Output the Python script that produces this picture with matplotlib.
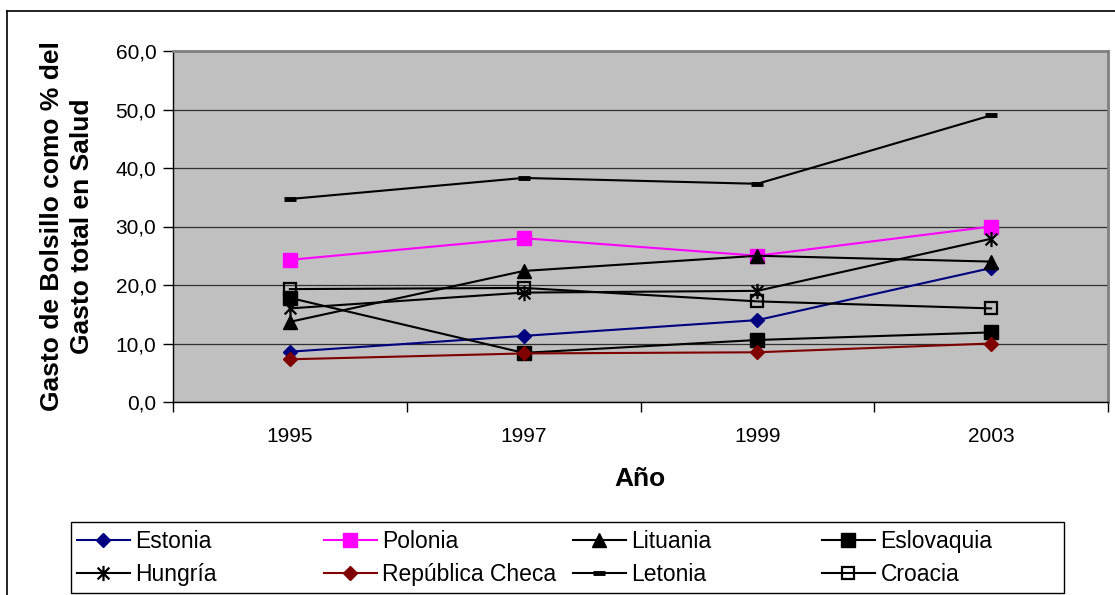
import numpy as np
import matplotlib
matplotlib.use("Agg")
import matplotlib.pyplot as plt
from matplotlib.path import Path
from matplotlib.lines import Line2D
from matplotlib.patches import Rectangle
from matplotlib.ticker import FuncFormatter

plt.rcParams['font.family'] = ['Liberation Sans', 'DejaVu Sans']

years = ['1995', '1997', '1999', '2003']
estonia = [8.6, 11.3, 14.0, 22.9]
polonia = [24.3, 28.0, 25.0, 30.0]
lituania = [13.7, 22.4, 25.0, 24.0]
eslovaquia = [17.8, 8.4, 10.6, 11.9]
hungria = [16.0, 18.7, 19.0, 27.9]
rep_checa = [7.3, 8.3, 8.5, 10.0]
letonia = [34.7, 38.3, 37.3, 49.0]
croacia = [19.3, 19.5, 17.2, 16.0]

# X with a vertical bar through it
star = Path([(-1, -1), (1, 1), (-1, 1), (1, -1), (0, -1.3), (0, 1.3)],
            [Path.MOVETO, Path.LINETO, Path.MOVETO, Path.LINETO, Path.MOVETO, Path.LINETO])

series = [
    ('Estonia', estonia, dict(color='#000080', marker='D', ms=7)),
    ('Polonia', polonia, dict(color='#FF00FF', marker='s', ms=10)),
    ('Lituania', lituania, dict(color='black', marker='^', ms=10)),
    ('Eslovaquia', eslovaquia, dict(color='black', marker='s', ms=9.5)),
    ('Hungría', hungria, dict(color='black', marker=star, ms=11, mew=1.6)),
    ('República Checa', rep_checa, dict(color='#800000', marker='D', ms=7)),
    ('Letonia', letonia, dict(color='black', marker='_', ms=9, mew=3.5)),
    ('Croacia', croacia, dict(color='black', marker='s', ms=9, mfc='none', mew=1.6)),
]

W, H = 1115, 595
fig = plt.figure(figsize=(W / 100, H / 100), dpi=100)
ax = fig.add_axes([173 / W, 1 - 402 / H, 935 / W, 351 / H])
ax.set_facecolor('#C0C0C0')

x = np.arange(len(years))
handles = {}
for name, vals, st in series:
    ln, = ax.plot(x, vals, lw=1.5, label=name, clip_on=False, **st)
    handles[name] = ln

ax.set_xlim(-0.5, len(years) - 0.5)
ax.set_ylim(0, 60)
ax.set_yticks(np.arange(0, 61, 10))
ax.yaxis.set_major_formatter(FuncFormatter(lambda v, p: f'{v:.1f}'.replace('.', ',')))
ax.grid(axis='y', color='#303030', lw=0.9)
ax.set_axisbelow(True)

ax.set_xticks(np.arange(-0.5, len(years), 1.0))
ax.set_xticklabels([])
ax.set_xticks(x, minor=True)
ax.set_xticklabels(years, minor=True)
ax.tick_params(axis='x', which='major', length=7, width=1, color='black', direction='out')
ax.tick_params(axis='x', which='minor', length=0, pad=18, labelsize=15)
ax.tick_params(axis='y', length=7, width=1, direction='out', pad=5, labelsize=15)

for s in ('top', 'right'):
    ax.spines[s].set_color('#808080')
    ax.spines[s].set_linewidth(2)
for s in ('left', 'bottom'):
    ax.spines[s].set_color('black')
    ax.spines[s].set_linewidth(1)

fig.text(67 / W, 1 - 226 / H, 'Gasto de Bolsillo como % del\nGasto total en Salud',
         rotation=90, ha='center', va='center', multialignment='center',
         fontsize=19, fontweight='bold', linespacing=1.35)
fig.text(640 / W, 1 - 479 / H, 'Año', ha='center', va='center',
         fontsize=19, fontweight='bold')

# outer chart frame (left and top edges visible)
fig.add_artist(Line2D([7 / W, 7 / W], [0, 1 - 11 / H], transform=fig.transFigure,
                      color='black', lw=1.2))
fig.add_artist(Line2D([7 / W, 1], [1 - 11 / H, 1 - 11 / H], transform=fig.transFigure,
                      color='black', lw=1.2))

# legend box with four fixed-width columns
fig.add_artist(Rectangle((71 / W, 1 - 593 / H), 993 / W, 71 / H, transform=fig.transFigure,
                         fill=False, ec='black', lw=1))
columns = [('Estonia', 'Hungría'), ('Polonia', 'República Checa'),
           ('Lituania', 'Letonia'), ('Eslovaquia', 'Croacia')]
col_x = [77, 324, 573, 822]
for cx, names in zip(col_x, columns):
    fig.legend([handles[n] for n in names], names, loc='center left',
               bbox_to_anchor=(cx / W, 1 - 558 / H), frameon=False, fontsize=16.5,
               handlelength=2.3, handletextpad=0.25, labelspacing=0.45,
               borderpad=0, borderaxespad=0, numpoints=1)

fig.savefig('out.png', dpi=100)
